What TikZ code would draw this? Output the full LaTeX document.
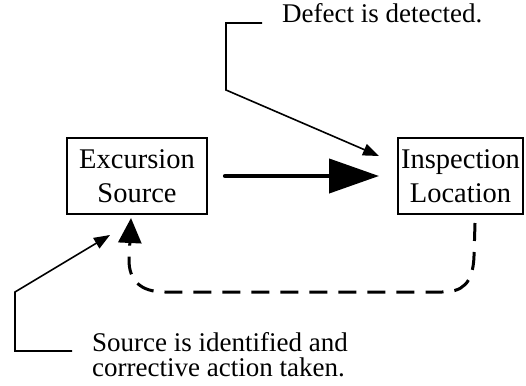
\documentclass[tikz,border=0pt]{standalone}
\usepackage{fontspec}
\setmainfont{Liberation Serif}
\usetikzlibrary{arrows.meta}
\tikzset{
  box/.style={draw, line width=2pt, inner sep=0pt, align=center,
    font=\fontsize{28.5}{34}\selectfont, minimum height=76pt},
  note/.style={anchor=base west, inner sep=0pt, align=left,
    font=\fontsize{27}{24.5}\selectfont},
  flow/.style={line width=4.2pt, line cap=round,
    -{Triangle[length=50pt,width=34pt]}},
  feedback/.style={line width=3pt, dash pattern=on 18pt off 11pt,
    -{Triangle[length=25pt,width=23pt]}},
  pointer/.style={line width=1.6pt,
    -{Triangle[length=16pt,width=12pt]}},
}
\begin{document}
\begin{tikzpicture}[x=1pt,y=-1pt]
  \useasboundingbox (0,0) rectangle (526,385);

  % process boxes
  \node[box, minimum width=140pt] (src) at (137,176) {Excursion\\Source};
  \node[box, minimum width=125pt] (ins) at (460.5,176) {Inspection\\Location};

  % main flow
  \draw[flow] ([xshift=17pt]src.east) -- ([xshift=-18pt]ins.west);

  % feedback loop back to the source
  \draw[feedback] ([xshift=14.5pt,yshift=-8pt]ins.south) -- (474,256)
    .. controls (473,284) and (462,292) .. (442,292)
    -- (165,292)
    .. controls (140,292) and (129,280) .. (129,260)
    -- ([xshift=-6pt,yshift=-3pt]src.south);

  % annotations (base anchor of a two-line note is its last line)
  \node[note] (defect) at (282,23) {Defect is detected.};
  \node[note] (srcid) at (92,376) {Source is identified and\\corrective action taken.};

  \coordinate (d0) at ([xshift=-20pt]defect.base west);
  \coordinate (dtip) at ([xshift=-18pt,yshift=-19pt]ins.north west);
  \draw[pointer] (d0) -- (226,23) -- (226,90) -- (dtip);

  \coordinate (s0) at ([xshift=-20pt,yshift=25pt]srcid.base west);
  \coordinate (stip) at ([xshift=-27pt,yshift=-20pt]src.south);
  \draw[pointer] (s0) -- (15,351) -- (15,292) -- (stip);
\end{tikzpicture}
\end{document}
